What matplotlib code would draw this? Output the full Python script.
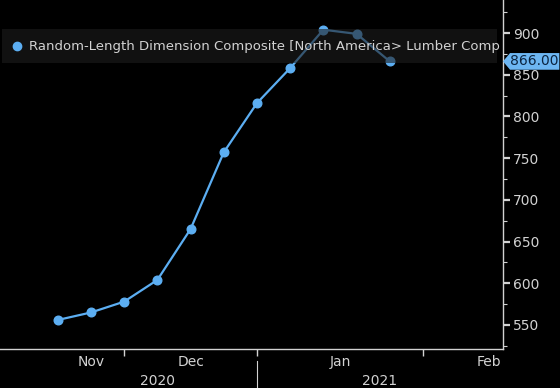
import numpy as np
import pandas as pd
import matplotlib
matplotlib.use("Agg")
import matplotlib.pyplot as plt
from matplotlib.patches import Rectangle, Polygon
from matplotlib.transforms import blended_transform_factory

# weekly observations (Fridays)
dates = pd.to_datetime([
    "2020-11-20", "2020-11-27", "2020-12-04", "2020-12-11", "2020-12-18",
    "2020-12-25", "2021-01-01", "2021-01-08", "2021-01-15", "2021-01-22",
    "2021-01-29",
])
values = [556, 565, 578, 604, 665, 757, 816, 858, 904, 899, 866]
series_name = "Random-Length Dimension Composite [North America> Lumber Comp"
y_ticks = [550, 600, 650, 700, 750, 800, 850, 900]

BG = "black"
LINE = "#5caef2"
FG = "#d2d2d2"

fig = plt.figure(figsize=(5.6, 3.88), dpi=100, facecolor=BG)
ax = fig.add_axes([0.0, 0.1005, 503 / 560, 0.8995], facecolor=BG)

x = np.arange(len(values))
ax.plot(x, values, color=LINE, lw=1.6, marker="o", ms=6.2, zorder=2)

xmin, xmax = -1.74, 13.41
ax.set_xlim(xmin, xmax)
ax.set_ylim(521.2, 939.6)

# spines
for s in ["top", "left"]:
    ax.spines[s].set_visible(False)
for s in ["bottom", "right"]:
    ax.spines[s].set_color(FG)
    ax.spines[s].set_linewidth(1.0)

# y axis on the right
ax.yaxis.tick_right()
ax.set_yticks(y_ticks)
ax.set_yticks(np.arange(525, 940, 50), minor=True)
ax.tick_params(axis="y", which="major", colors=FG, length=5, width=1.6,
               pad=2, labelsize=10)
ax.tick_params(axis="y", which="minor", colors=FG, length=3, width=0.8)

# x axis: month boundaries on an observation index scale
cal = pd.date_range(dates[0], "2021-03-31", freq="W-FRI")
idx = pd.Series(np.arange(len(cal)), index=cal)
month_key = cal.to_period("M")
starts = idx.groupby(month_key).min()
bounds = [v for v in starts.values if xmin < v < xmax and v > 0]
ax.set_xticks(bounds)
ax.set_xticklabels([])
ax.tick_params(axis="x", colors=FG, length=5, width=1.0)

trans = blended_transform_factory(ax.transData, ax.transAxes)
for per, s0 in starts.items():
    s1 = s0 + (month_key == per).sum()
    a, b = max(s0, 0), s1
    if a >= xmax:
        continue
    mid = (a + b) / 2
    label = per.strftime("%b")
    if mid + 0.35 > xmax:
        ax.text(xmax - 0.1, -0.038, label, transform=trans, ha="right",
                va="center", color=FG, fontsize=10)
    else:
        ax.text(mid, -0.038, label, transform=trans, ha="center",
                va="center", color=FG, fontsize=10)

year_key = cal.year
for yr in sorted(set(year_key)):
    pos = idx[year_key == yr].values
    a, b = max(pos.min(), 0), min(pos.max() + 1, xmax)
    if a >= xmax:
        continue
    ax.text((a + b) / 2, -0.091, str(yr), transform=trans, ha="center",
            va="center", color=FG, fontsize=10)
    if pos.min() > 0:
        ax.plot([pos.min(), pos.min()], [-0.034, -0.115], transform=trans,
                color=FG, lw=0.8, clip_on=False)

# legend strip drawn over the line
ax.add_patch(Rectangle((0.004, 0.819), 0.984, 0.098, transform=ax.transAxes,
                       facecolor="#1e1e1e", alpha=0.6, edgecolor="none",
                       zorder=3))
ax.plot([0.034], [0.868], marker="o", ms=6, color=LINE,
        transform=ax.transAxes, zorder=4)
ax.text(0.058, 0.868, series_name, transform=ax.transAxes, color=FG,
        fontsize=9.5, va="center", ha="left", zorder=4, clip_on=True)

# last value tag
last = values[-1]
tt = blended_transform_factory(ax.transAxes, ax.transData)
tag = Polygon([(1.0, last), (1.014, last + 10), (1.112, last + 10),
               (1.112, last - 10), (1.014, last - 10)], closed=True,
              transform=tt, facecolor="#6db6f2", edgecolor="none",
              clip_on=False, zorder=5)
ax.add_patch(tag)
ax.text(1.063, last, f"{last:.2f}", transform=tt, ha="center", va="center",
        color="#0b2440", fontsize=10, zorder=6, clip_on=False)

fig.savefig("out.png", dpi=100, facecolor=BG)
